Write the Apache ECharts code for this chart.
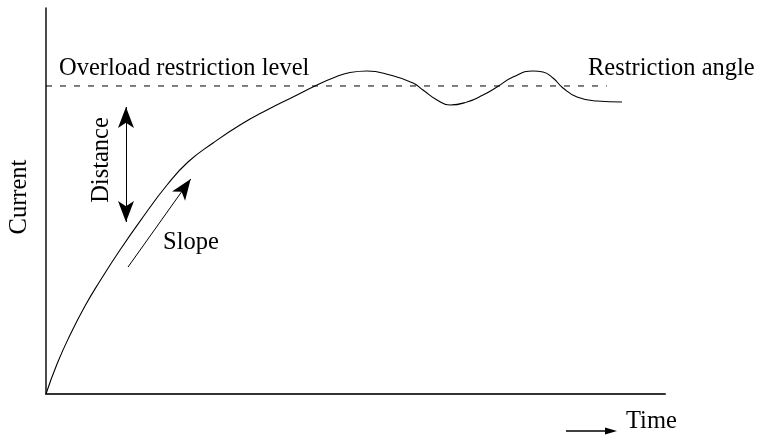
<!DOCTYPE html>
<html>
<head>
<meta charset="utf-8">
<script src="https://cdn.jsdelivr.net/npm/echarts@6/dist/echarts.min.js"></script>
<style>
  html, body { margin: 0; padding: 0; background: #fff; }
  #chart { width: 758px; height: 436px; }
</style>
</head>
<body>
<div id="chart"></div>
<script>
// Time (0-100, arbitrary units) and current response (0-100, arbitrary units)
const timeValues = [0, 1.78, 3.88, 6.30, 8.72, 11.95, 15.67, 19.55, 22.94, 26.98,
  31.34, 35.70, 39.90, 43.78, 46.37, 49.11, 51.86, 55.57, 59.29, 60.90, 63.17, 65.27,
  68.01, 70.60, 72.86, 75.44, 78.68, 80.29, 81.91, 83.52, 85.78, 89.01, 93.05];
const currentValues = [0, 7.77, 15.28, 22.80, 29.27, 37.31, 45.85, 54.15, 60.10, 65.03,
  69.69, 73.58, 76.94, 80.05, 81.87, 83.29, 83.68, 82.64, 80.57, 78.76, 76.17, 74.87,
  75.65, 77.46, 79.53, 82.12, 83.68, 83.42, 81.87, 79.27, 76.94, 75.91, 75.65];

// Overload restriction level (current) and how far along time it is drawn
const restrictionLevel = 79.8;
const restrictionSpan = [0, 90.6];

// Annotation arrows, in time/current units
const distanceArrow = [[12.92, 74.35], [12.92, 44.56]];
const slopeArrow = [[13.25, 32.9], [23.38, 55.7]];

const FONT = "'Liberation Serif', 'Times New Roman', serif";
const FONT_SIZE = 24.5;
const chart = echarts.init(document.getElementById('chart'), null, { renderer: 'canvas' });

const curve = timeValues.map((t, i) => [t, currentValues[i]]);

function label(text, extra) {
  return Object.assign({ type: 'text', style: { text: text, font: FONT_SIZE + 'px ' + FONT, fill: '#000' } }, extra);
}

function rotatedLabel(text, x, y) {
  return { type: 'text', x: x, y: y, rotation: Math.PI / 2,
    style: { text: text, font: FONT_SIZE + 'px ' + FONT, fill: '#000', align: 'center', verticalAlign: 'middle' } };
}

chart.setOption({
  animation: false,
  backgroundColor: '#ffffff',
  grid: { left: 46, right: 93, top: 8, bottom: 42, outerBoundsMode: 'none', containLabel: false },
  xAxis: {
    type: 'value', min: 0, max: 100,
    axisLine: { show: true, lineStyle: { color: '#333', width: 2 } },
    axisTick: { show: false }, axisLabel: { show: false }, splitLine: { show: false }
  },
  yAxis: {
    type: 'value', min: 0, max: 100,
    axisLine: { show: true, lineStyle: { color: '#111', width: 1.5 } },
    axisTick: { show: false }, axisLabel: { show: false }, splitLine: { show: false }
  },
  series: [
    {
      name: 'Current',
      type: 'line',
      data: curve,
      smooth: 0.5,
      showSymbol: false,
      silent: true,
      lineStyle: { color: '#000', width: 1.1 }
    },
    {
      name: 'Restriction level',
      type: 'line',
      data: restrictionSpan.map(t => [t, restrictionLevel]),
      showSymbol: false,
      silent: true,
      lineStyle: { color: '#000', width: 1, type: [6, 8] }
    },
    {
      name: 'Annotations',
      type: 'line',
      data: [],
      silent: true,
      markLine: {
        silent: true,
        animation: false,
        label: { show: false },
        lineStyle: { color: '#000', width: 1, type: 'solid' },
        symbolSize: [12, 21],
        data: [
          [{ coord: distanceArrow[0], symbol: 'arrow' }, { coord: distanceArrow[1], symbol: 'arrow' }],
          [{ coord: slopeArrow[0], symbol: 'none' }, { coord: slopeArrow[1], symbol: 'arrow' }]
        ]
      }
    }
  ],
  graphic: [
    rotatedLabel('Current', 20, 197),
    label('Overload restriction level', { left: 59, top: 56 }),
    label('Restriction angle', { left: 588, top: 56 }),
    rotatedLabel('Distance', 102, 160),
    label('Slope', { left: 163, top: 230 }),
    label('Time', { left: 626, top: 409 }),
    { type: 'line', shape: { x1: 566, y1: 431, x2: 608, y2: 431 }, style: { stroke: '#000', lineWidth: 1.5 } },
    { type: 'polygon', shape: { points: [[617, 431], [605, 427.5], [605, 434.5]] }, style: { fill: '#000' } }
  ]
});
</script>
</body>
</html>
